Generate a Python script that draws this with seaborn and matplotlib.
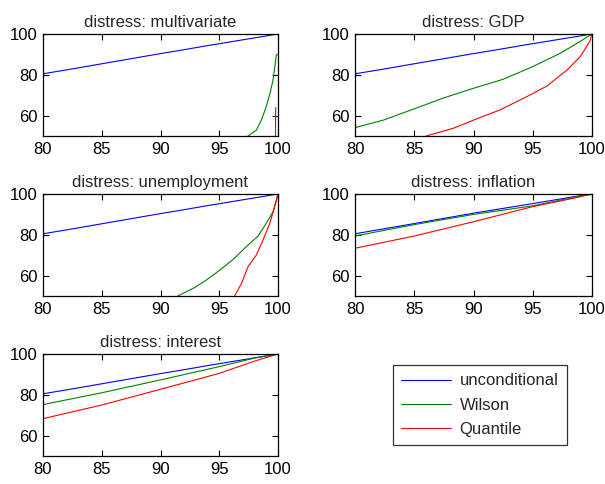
import matplotlib
matplotlib.use("Agg")
import matplotlib.pyplot as plt
import seaborn as sns

# values
grid = [80, 82, 84, 86, 88, 90, 92, 94, 96, 98, 100]
uncond = [80.5, 82.4, 84.4, 86.4, 88.4, 90.4, 92.3, 94.3, 96.2, 98.1, 100]

multi_wilson_x = [97.45, 98.16, 98.6, 99.0, 99.3, 99.58, 99.86, 100]
multi_wilson_y = [50, 52.9, 58.0, 64.4, 70.5, 77.5, 89.7, 90]
multi_quant_x = [99.78, 99.8]
multi_quant_y = [45, 64]

gdp_wilson_x = [80, 82.4, 84.9, 87.4, 90.0, 92.5, 95.0, 97.3, 98.96, 100]
gdp_wilson_y = [54.1, 57.8, 63.1, 68.5, 73.4, 77.8, 84.0, 90.5, 96.2, 100]
gdp_quant_x = [86.0, 88.3, 90.0, 92.2, 94.5, 96.2, 97.9, 99.0, 99.8, 100]
gdp_quant_y = [50, 53.8, 57.8, 62.7, 69.3, 74.5, 82.4, 88.9, 96.2, 100]

unemp_wilson_x = [91.46, 92.8, 93.9, 95.05, 96.2, 97.3, 98.3, 99.0, 99.58, 100]
unemp_wilson_y = [50, 53.8, 57.8, 62.7, 68.0, 74.2, 79.4, 85.6, 91.3, 100]
unemp_quant_x = [96.3, 96.9, 97.45, 98.16, 98.73, 99.3, 99.72, 100]
unemp_quant_y = [50, 56.2, 64.4, 70.1, 77.5, 85.6, 93.8, 100]

infl_x = [80, 85, 90, 95, 98.5, 100]
infl_uncond = [80.5, 85.5, 90.6, 95.3, 98.7, 100]
infl_wilson = [79.4, 85.0, 90.0, 94.2, 98.4, 100]
infl_quant = [73.4, 79.4, 86.4, 93.8, 98.0, 100]

int_x = [80, 85, 90, 95, 98, 100]
int_wilson = [75.2, 81.0, 87.3, 93.8, 98.0, 100]
int_quant = [68.3, 75.0, 82.7, 90.5, 96.5, 100]

titles = ["distress: multivariate", "distress: GDP", "distress: unemployment",
          "distress: inflation", "distress: interest"]
labels = ["unconditional", "Wilson", "Quantile"]
colors = ["#0000ff", "#008000", "#ff0000"]

panels = [
    [(grid, uncond), (multi_wilson_x, multi_wilson_y), (multi_quant_x, multi_quant_y)],
    [(grid, uncond), (gdp_wilson_x, gdp_wilson_y), (gdp_quant_x, gdp_quant_y)],
    [(grid, uncond), (unemp_wilson_x, unemp_wilson_y), (unemp_quant_x, unemp_quant_y)],
    [(infl_x, infl_uncond), (infl_x, infl_wilson), (infl_x, infl_quant)],
    [(grid, uncond), (int_x, int_wilson), (int_x, int_quant)],
]

sns.set_style("ticks")
plt.rcParams["font.family"] = ["Liberation Sans", "DejaVu Sans"]
plt.rcParams["font.size"] = 12

fig = plt.figure(figsize=(6.05, 4.84), dpi=100)

lefts = [43 / 605, 355 / 605]
widths = [235 / 605, 237 / 605]
bottoms = [1 - 136 / 484, 1 - 296 / 484, 1 - 456 / 484]
height = 102 / 484

for i, (title, series) in enumerate(zip(titles, panels)):
    r, c = divmod(i, 2)
    ax = fig.add_axes([lefts[c], bottoms[r], widths[c], height])
    for (xs, ys), col, lab in zip(series, colors, labels):
        sns.lineplot(x=xs, y=ys, ax=ax, color=col, lw=0.8, estimator=None,
                     sort=False, label=lab, legend=False)
    ax.set_xlim(80, 100)
    ax.set_ylim(50, 100)
    ax.set_xticks([80, 85, 90, 95, 100])
    ax.set_yticks([60, 80, 100])
    ax.tick_params(direction="in", top=True, right=True, length=4,
                   width=0.8, labelsize=12, pad=4, colors="black")
    for sp in ax.spines.values():
        sp.set_visible(True)
        sp.set_linewidth(0.9)
        sp.set_color("black")
    ax.set_title(title, fontsize=12, pad=5)
    if i == 0:
        handles, hl = ax.get_legend_handles_labels()

leg = fig.legend(handles, hl, loc="upper left",
                 bbox_to_anchor=(393 / 605, 1 - 365 / 484),
                 frameon=True, fancybox=False, edgecolor="black",
                 handlelength=3.0, handletextpad=0.5, fontsize=12,
                 borderaxespad=0, labelspacing=0.55, borderpad=0.5)
leg.get_frame().set_linewidth(0.9)

fig.savefig("out.png", dpi=100, facecolor="white")
